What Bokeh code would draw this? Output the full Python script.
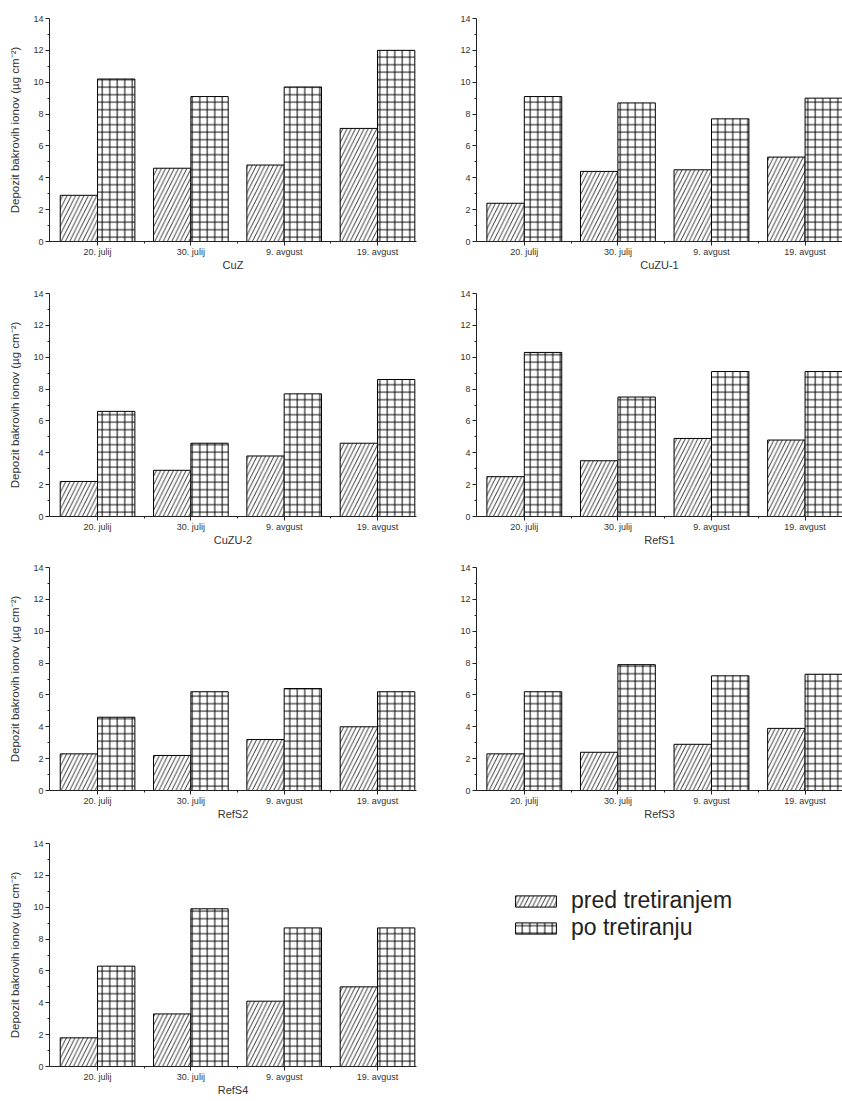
from bokeh.plotting import figure
from bokeh.models import FixedTicker, Range1d, Legend, LegendItem, ColumnDataSource
from bokeh.transform import dodge
from bokeh.layouts import column, row
from bokeh.embed import file_html
from bokeh.resources import INLINE

# ---------------- data ----------------
dates = ["20. julij", "30. julij", "9. avgust", "19. avgust"]
series_names = ["pred tretiranjem", "po tretiranju"]
y_ticks = [0, 2, 4, 6, 8, 10, 12, 14]
y_minor = [1, 3, 5, 7, 9, 11, 13]

cuz_pred = [2.9, 4.6, 4.8, 7.1]
cuz_po = [10.2, 9.1, 9.7, 12.0]
cuzu1_pred = [2.4, 4.4, 4.5, 5.3]
cuzu1_po = [9.1, 8.7, 7.7, 9.0]
cuzu2_pred = [2.2, 2.9, 3.8, 4.6]
cuzu2_po = [6.6, 4.6, 7.7, 8.6]
refs1_pred = [2.5, 3.5, 4.9, 4.8]
refs1_po = [10.3, 7.5, 9.1, 9.1]
refs2_pred = [2.3, 2.2, 3.2, 4.0]
refs2_po = [4.6, 6.2, 6.4, 6.2]
refs3_pred = [2.3, 2.4, 2.9, 3.9]
refs3_po = [6.2, 7.9, 7.2, 7.3]
refs4_pred = [1.8, 3.3, 4.1, 5.0]
refs4_po = [6.3, 9.9, 8.7, 8.7]

panel_names = ["CuZ", "CuZU-1", "CuZU-2", "RefS1", "RefS2", "RefS3", "RefS4"]
panel_pred = [cuz_pred, cuzu1_pred, cuzu2_pred, refs1_pred, refs2_pred, refs3_pred, refs4_pred]
panel_po = [cuz_po, cuzu1_po, cuzu2_po, refs1_po, refs2_po, refs3_po, refs4_po]

# ---------------- style ----------------
FONT = "Liberation Sans"
YLABEL = "Depozit bakrovih ionov (\u00b5g cm\u207b\u00b2)"
FRAME_H = 223
ROW_H = [275, 274, 275, 276]
ROW_TOP = [18, 18, 18, 19]

pred_style = dict(fill_color="white", line_color="black", line_width=1,
                  hatch_pattern="/", hatch_color="black", hatch_scale=8.5, hatch_weight=0.8)
po_style = dict(fill_color="white", line_color="black", line_width=1,
                hatch_pattern="+", hatch_color="black", hatch_scale=7.5, hatch_weight=1)


def make_panel(name, pred, po, left, height, top):
    if left:
        width, bl, br, xstart, xend = 428, 49, 12, 0.485, 4.418
    else:
        width, bl, br, xstart, xend = 414, 48, 0, 0.489, 4.40
    p = figure(width=width, height=height, x_range=Range1d(xstart, xend), y_range=Range1d(0, 14),
               output_backend="svg", toolbar_location=None, tools="",
               min_border_left=bl, min_border_right=br, min_border_top=top,
               min_border_bottom=height - top - FRAME_H)
    p.outline_line_color = None
    p.grid.visible = False
    p.background_fill_color = "white"
    p.border_fill_color = "white"

    src = ColumnDataSource(dict(x=list(range(1, len(dates) + 1)), pred=pred, po=po))
    p.vbar(x=dodge("x", -0.2, range=p.x_range), top="pred", width=0.4, bottom=0, source=src, **pred_style)
    p.vbar(x=dodge("x", 0.2, range=p.x_range), top="po", width=0.4, bottom=0, source=src, **po_style)

    xa = p.xaxis[0]
    xa.ticker = FixedTicker(ticks=list(range(1, len(dates) + 1)), minor_ticks=[1.5, 2.5, 3.5])
    xa.major_label_overrides = {i + 1: d for i, d in enumerate(dates)}
    xa.axis_label = name
    ya = p.yaxis[0]
    ya.ticker = FixedTicker(ticks=y_ticks, minor_ticks=y_minor)
    if left:
        ya.axis_label = YLABEL
    for ax in (xa, ya):
        ax.axis_line_color = "#222222"
        ax.major_tick_line_color = "#222222"
        ax.minor_tick_line_color = "#222222"
        ax.major_tick_in = 0
        ax.major_tick_out = 4
        ax.minor_tick_in = 0
        ax.minor_tick_out = 2
        ax.major_label_text_font = FONT
        ax.major_label_text_font_size = "9px"
        ax.major_label_text_color = "#333333"
        ax.axis_label_text_font = FONT
        ax.axis_label_text_font_style = "normal"
        ax.axis_label_text_color = "#333333"
    xa.major_label_standoff = 1
    xa.axis_label_standoff = -1
    xa.axis_label_text_font_size = "11px"
    ya.major_label_standoff = 2
    ya.axis_label_standoff = 9
    ya.axis_label_text_font_size = "11.5px"
    return p


panels = []
for i, (nm, pr, po) in enumerate(zip(panel_names, panel_pred, panel_po)):
    panels.append(make_panel(nm, pr, po, i % 2 == 0, ROW_H[i // 2], ROW_TOP[i // 2]))

# legend panel
lg = figure(width=414, height=ROW_H[3], x_range=Range1d(0, 1), y_range=Range1d(0, 1),
            output_backend="svg", toolbar_location=None, tools="",
            x_axis_location=None, y_axis_location=None, min_border=0)
lg.grid.visible = False
lg.outline_line_color = None
offscreen = ColumnDataSource(dict(x=[10], top=[0.5]))
r1 = lg.vbar(x="x", top="top", width=0.1, source=offscreen, **pred_style)
r2 = lg.vbar(x="x", top="top", width=0.1, source=offscreen, **po_style)
legend = Legend(items=[LegendItem(label=series_names[0], renderers=[r1]),
                       LegendItem(label=series_names[1], renderers=[r2])],
                location=(82, 125), padding=0, margin=0, spacing=0,
                glyph_width=51, glyph_height=14, label_height=24, label_standoff=10,
                label_text_font=FONT, label_text_font_size="23px", label_text_color="#222222",
                border_line_color=None, background_fill_alpha=0)
lg.add_layout(legend)

layout = column(row(panels[0], panels[1]),
                row(panels[2], panels[3]),
                row(panels[4], panels[5]),
                row(panels[6], lg))

open("out.html", "w").write(file_html(layout, INLINE))
